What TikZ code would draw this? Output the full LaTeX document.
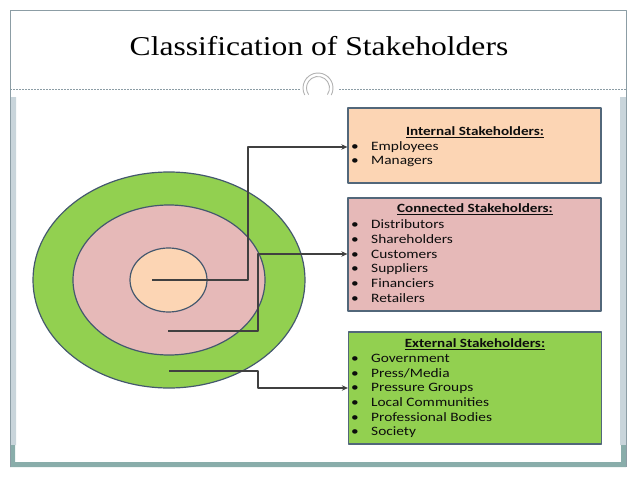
\documentclass[tikz,border=0pt]{standalone}
\usepackage{fontspec}
\usetikzlibrary{shapes.geometric,arrows.meta}
\newfontfamily\titlefont[FakeStretch=1.16]{Liberation Serif}
\newfontfamily\boxfont[FakeStretch=1.2]{Carlito}
\definecolor{intfill}{HTML}{FCD5B4}
\definecolor{confill}{HTML}{E6B9B8}
\definecolor{extfill}{HTML}{92D050}
\definecolor{boxedge}{HTML}{52677A}
\definecolor{ringedge}{HTML}{44586E}
\definecolor{connline}{HTML}{404040}
\definecolor{frameline}{HTML}{8C9DA5}
\definecolor{sidebar}{HTML}{C9D5DB}
\definecolor{footbar}{HTML}{89ADAA}
\begin{document}
\begin{tikzpicture}[x=1pt, y=-1pt, >=Stealth, line join=round]
	\tikzset{ring/.style={ellipse, draw=ringedge, line width=1.2pt, inner sep=0pt},
	stakebox/.style={rectangle, draw=boxedge, line width=1.3pt, minimum width=253pt, inner sep=0pt},
	head/.style={font=\boxfont\bfseries\fontsize{12.6}{14}\selectfont, text=black!95, anchor=base, inner sep=0pt},
	item/.style={font=\boxfont\fontsize{12.8}{14}\selectfont, text=black!95, anchor=base west, inner sep=0pt},
	conn/.style={draw=connline, line width=1.8pt, -{Stealth[length=6pt,width=5.5pt]}}}
	\useasboundingbox (0,0) rectangle (638,479);
	% slide frame
	\fill[sidebar] (10,97) rectangle (16,445) (620,97) rectangle (626,445);
	\fill[footbar] (10,445) rectangle (15,467) (621,445) rectangle (626,467) (10,462) rectangle (626,467);
	\draw[frameline, line width=0.8pt] (10,467) -- (10,10) -- (626,10) -- (626,467);
	\draw[frameline, line width=0.7pt, dash pattern=on 2pt off 1pt] (10,89) -- (300,89) (339,89) -- (626,89);
	\draw[gray!60, line width=0.9pt] ([shift={(-28:15pt)}]318,88) arc[start angle=-28, end angle=208, radius=15pt];
	\draw[gray!60, line width=0.9pt] ([shift={(-35:11.5pt)}]318,88) arc[start angle=-35, end angle=215, radius=11.5pt];
	\node[font=\titlefont\fontsize{27.2}{30}\selectfont, anchor=base] (title) at (319,55.7) {Classification of Stakeholders};
	% rings
	\node[ring, fill=extfill, minimum width=272pt, minimum height=216pt] (outer) at (169,280) {};
	\node[ring, fill=confill, minimum width=192pt, minimum height=150pt] (middle) at (169,280) {};
	\node[ring, fill=intfill, minimum width=77pt, minimum height=64pt] (inner) at (168.5,280) {};
	% boxes
	\node[stakebox, fill=intfill, minimum height=75pt] (intbox) at (474.5,145.5) {};
	\node[stakebox, fill=confill, minimum height=113pt] (conbox) at (474.5,254.5) {};
	\node[stakebox, fill=extfill, minimum height=112pt] (extbox) at (475,388) {};
	\node[head] (inthead) at (475,135.7) {\underline{Internal Stakeholders:}};
	\node[head] (conhead) at (475,212.7) {\underline{Connected Stakeholders:}};
	\node[head] (exthead) at (475,347.3) {\underline{External Stakeholders:}};
	\foreach \t [count=\i] in {Employees,Managers}{
		\node[item] (intbul\i) at (351,135.7+14.6*\i) {\textbullet};
		\node[item] (intitem\i) at (371,135.7+14.6*\i) {\t};}
	\foreach \t [count=\i] in {Distributors,Shareholders,Customers,Suppliers,Financiers,Retailers}{
		\node[item] (conbul\i) at (351,214+14.7*\i) {\textbullet};
		\node[item] (conitem\i) at (371,214+14.7*\i) {\t};}
	\foreach \t [count=\i] in {Government,Press/Media,Pressure Groups,Local Communities,Professional Bodies,Society}{
		\node[item] (extbul\i) at (351,348.1+14.6*\i) {\textbullet};
		\node[item] (extitem\i) at (371,348.1+14.6*\i) {\t};}
	% connectors
	\coordinate (intstart) at (152,280);
	\coordinate (constart) at (168,331);
	\coordinate (extstart) at (169,371);
	\coordinate (intbend) at (248,147);
	\coordinate (conbend) at (258,254);
	\coordinate (extbend) at (258,388);
	\draw[conn] (intstart) -| (intbend) -- (intbend -| intbox.west);
	\draw[conn] (constart) -| (conbend) -- (conbend -| conbox.west);
	\draw[conn] (extstart) -| (extbend) -- (extbend -| extbox.west);
\end{tikzpicture}
\end{document}
